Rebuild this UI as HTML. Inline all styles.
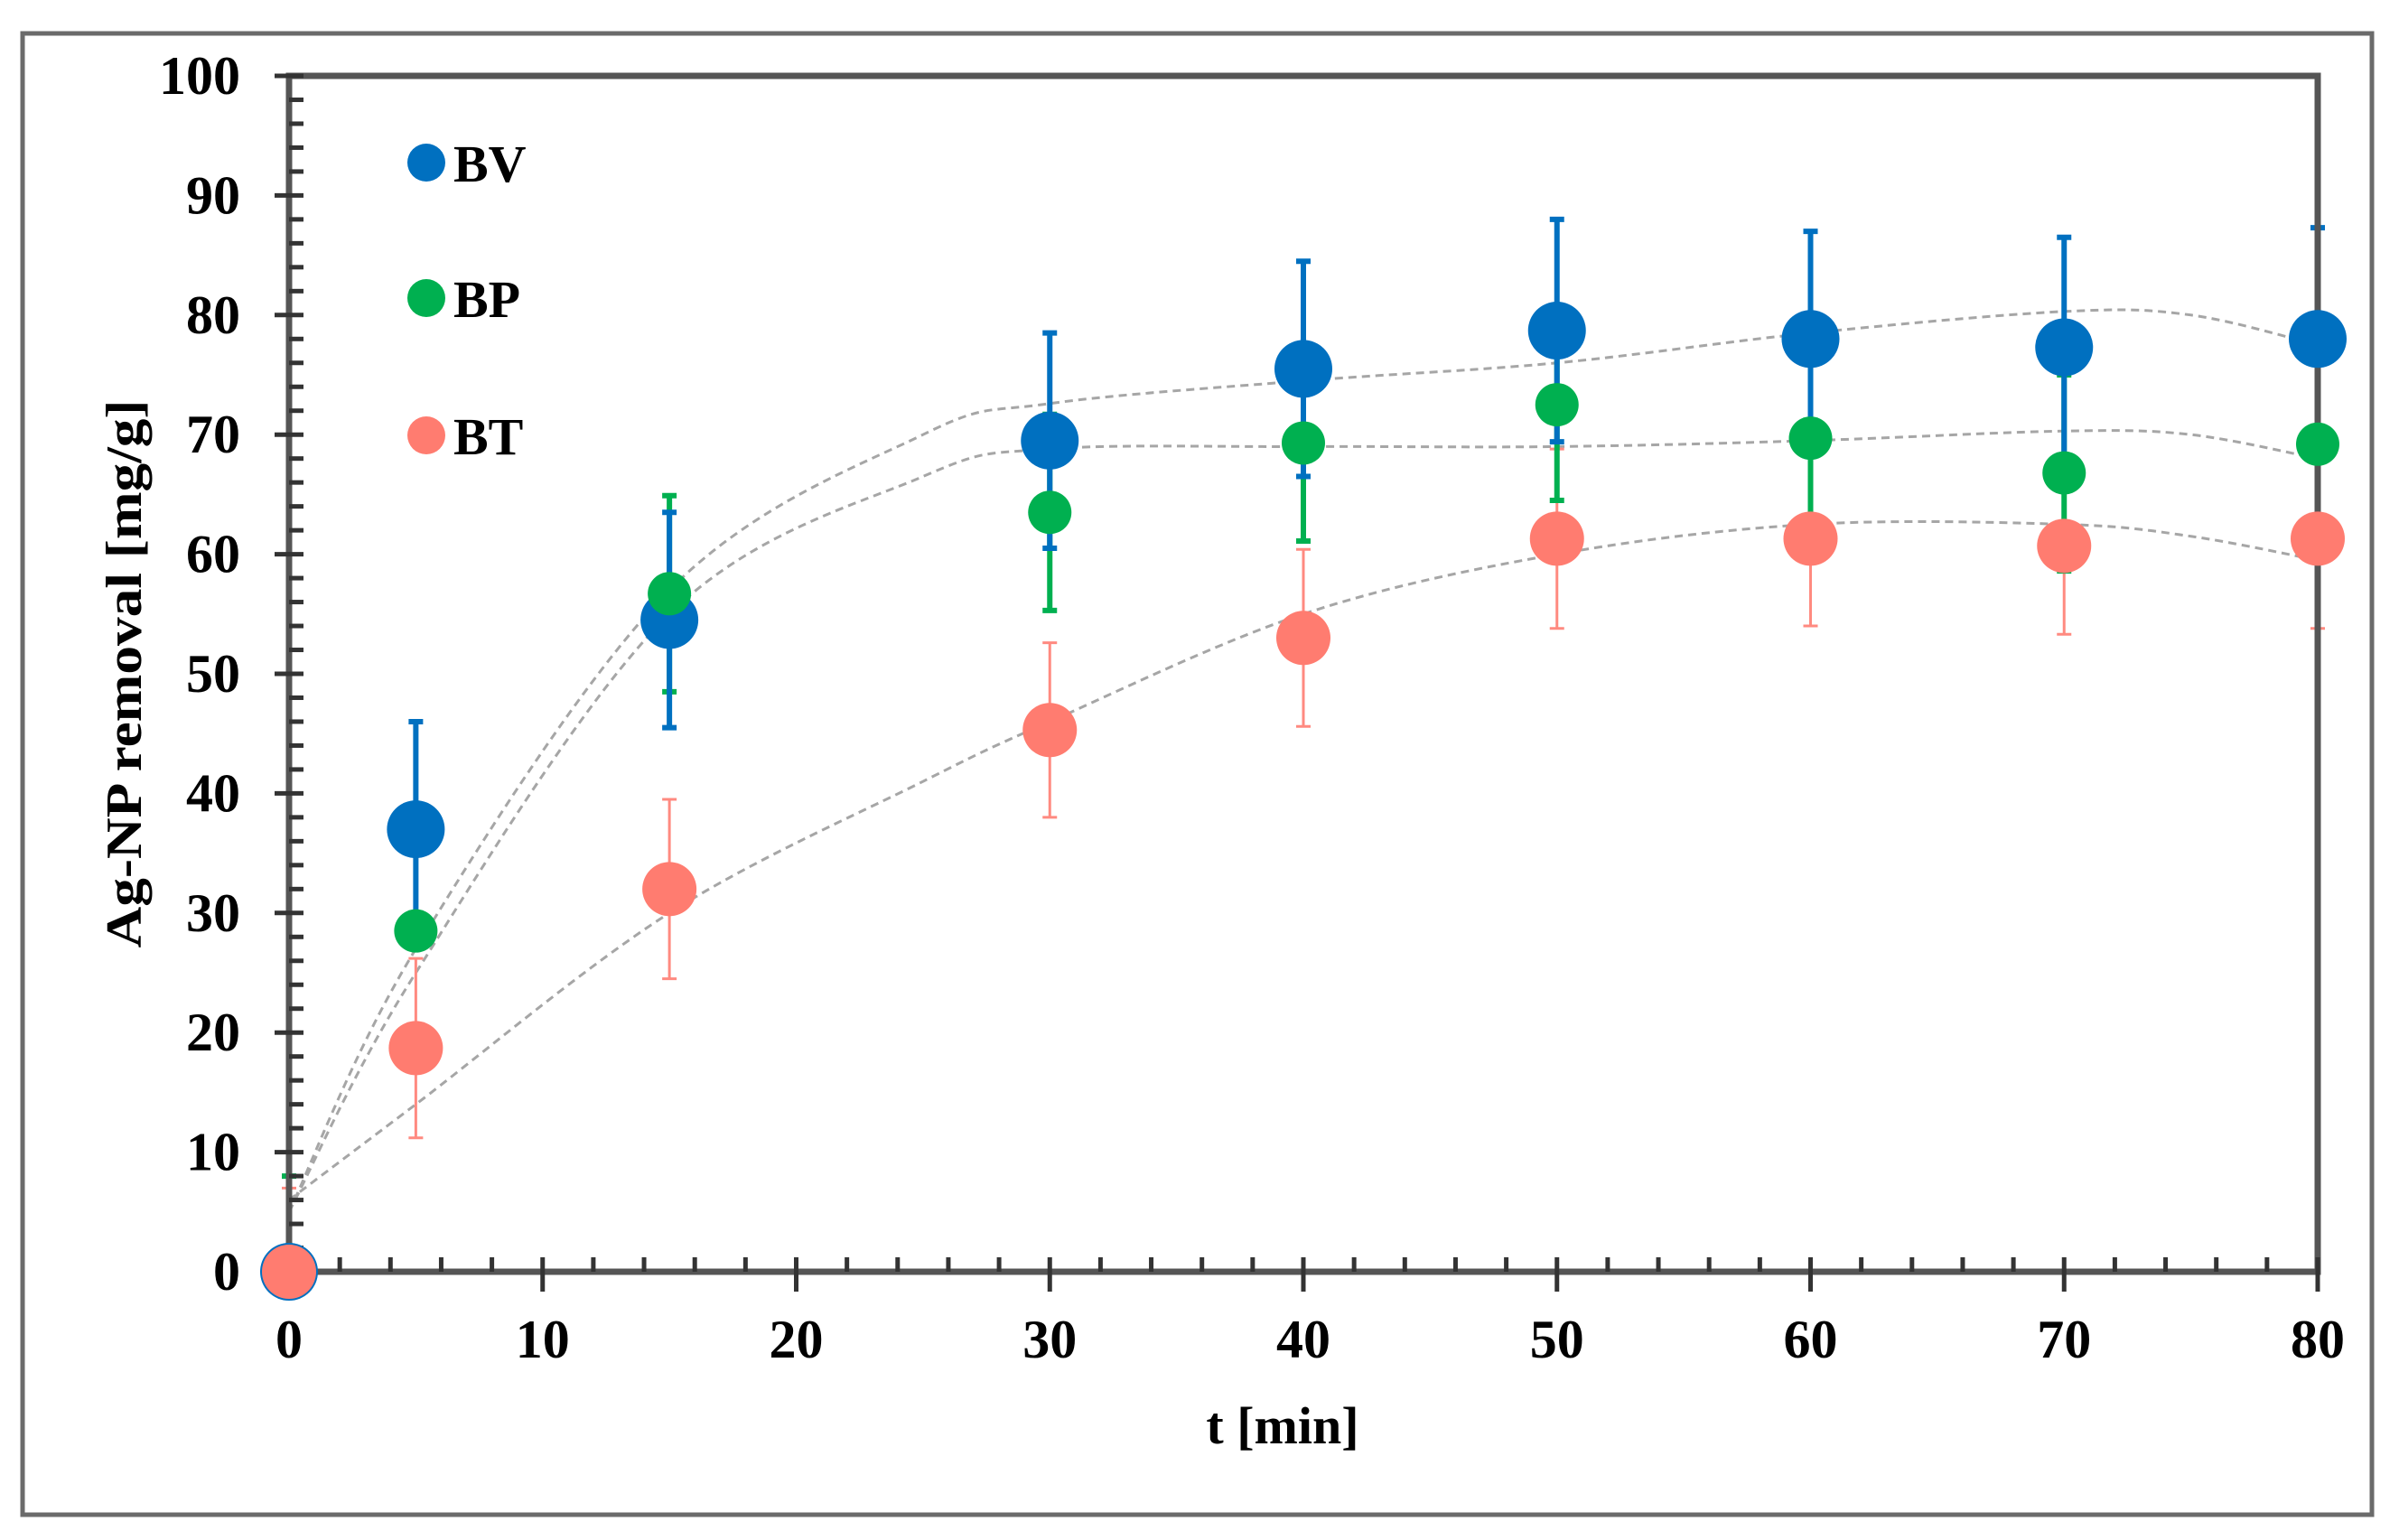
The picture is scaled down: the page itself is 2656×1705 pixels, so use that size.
<!DOCTYPE html>
<html><head><meta charset="utf-8"><style>
html,body{margin:0;padding:0;background:#fff;}
svg{display:block;}
text{font-family:"Liberation Serif",serif;font-weight:bold;fill:#000;}
</style></head>
<body>
<svg id="chart" width="2656" height="1705" viewBox="0 0 2656 1705" xmlns="http://www.w3.org/2000/svg">
<rect x="25" y="37" width="2601" height="1640" fill="#fff" stroke="#6b6b6b" stroke-width="5"/>
<g id="grid"></g>
<g id="trends"></g>
<g id="errs"></g>
<g id="marks"></g>
<g id="axes"></g>
<g id="legend">
  <circle cx="472" cy="180" r="21" fill="#0070c0"/>
  <text x="502" y="201" font-size="58">BV</text>
  <circle cx="472" cy="330" r="21" fill="#00b050"/>
  <text x="502" y="351" font-size="58">BP</text>
  <circle cx="472" cy="482" r="21" fill="#ff7c70"/>
  <text x="502" y="503" font-size="58">BT</text>
</g>
<text x="1420" y="1598" font-size="58" text-anchor="middle">t [min]</text>
<text transform="translate(156,746) rotate(-90)" font-size="56" text-anchor="middle" textLength="607" lengthAdjust="spacingAndGlyphs">Ag-NP removal  [mg/g]</text>
</svg>
<script>
const times=[0,5,15,30,40,50,60,70,80];
const bvValues=[0,37,54.5,69.5,75.5,78.7,78,77.3,78];
const bvErr=[0,9,9,9,9,9.3,9,9.2,9.3];
const bpValues=[0,28.5,56.7,63.5,69.3,72.5,69.7,66.8,69.2];
const bpErr=[8,0,8.2,8.2,8.2,8,8,8.2,8];
const btValues=[0,18.7,32,45.3,53,61.3,61.3,60.7,61.3];
const btErr=[7,7.5,7.5,7.3,7.4,7.5,7.3,7.4,7.5];
const trendX=[0,5,15,25,30,40,50,60,70,75,80];
const bvTrend=[5,27,57,70,72.6,74.5,76,78.5,80.3,80,77.5];
const bpTrend=[5,25,55,66.5,68.8,69,69,69.5,70.3,70,68];
const btTrend=[6,14,30,41,46,55,60,62.5,62.5,61.5,59.5];
const xTicks=[0,10,20,30,40,50,60,70,80];
const yTicks=[0,10,20,30,40,50,60,70,80,90,100];

const NS="http://www.w3.org/2000/svg";
const X0=320,X1=2566,Y0=1408,Y1=84;
const sx=v=>X0+(X1-X0)*v/80;
const sy=v=>Y0-(Y0-Y1)*v/100;
function mk(tag,attrs,parent){const e=document.createElementNS(NS,tag);for(const k in attrs)e.setAttribute(k,attrs[k]);document.getElementById(parent).appendChild(e);return e;}

let a=mk('path',{d:`M${X0},${Y0}H${X1}V${Y1}H${X0}Z`,fill:'none',stroke:'#555',"stroke-width":7},'axes');


for(let v=0;v<=100;v+=2){
  const y=sy(v);const major=v%10===0;
  const t=mk('line',{x1:major?X0-16:X0,x2:X0+16,y1:y,y2:y,stroke:'#333',"stroke-width":5},'axes');
  
  
}
for(let v=0;v<=80;v+=2){
  const x=sx(v);const major=v%10===0;
  const t=mk('line',{x1:x,x2:x,y1:Y0-16,y2:major?Y0+22:Y0,stroke:'#333',"stroke-width":5},'axes');
  
  
}
yTicks.forEach(v=>{const t=mk('text',{x:266,y:sy(v)+20,"font-size":60,"text-anchor":"end"},'axes');t.textContent=v;
  
  });
xTicks.forEach(v=>{const t=mk('text',{x:sx(v),y:1503,"font-size":60,"text-anchor":"middle"},'axes');t.textContent=v;
  
  });

function smooth(xs,ys){const p=xs.map((x,i)=>[sx(x),sy(ys[i])]);let d=`M${p[0][0]},${p[0][1]}`;
  for(let i=0;i<p.length-1;i++){const p0=p[i-1]||p[i],p1=p[i],p2=p[i+1],p3=p[i+2]||p2;
    d+=`C${p1[0]+(p2[0]-p0[0])/6},${p1[1]+(p2[1]-p0[1])/6} ${p2[0]-(p3[0]-p1[0])/6},${p2[1]-(p3[1]-p1[1])/6} ${p2[0]},${p2[1]}`;}
  return d;}
[['bv',bvTrend],['bp',bpTrend],['bt',btTrend]].forEach(([n,ys])=>{
  const l=mk('path',{d:smooth(trendX,ys),fill:'none',stroke:'#a6a6a6',"stroke-width":3,"stroke-dasharray":"9 6"},'trends');
  
  
});

const series=[['bt',btValues,btErr,'#ff8a80',30,'#ff7c70'],['bp',bpValues,bpErr,'#00b050',24,'#00b050'],['bv',bvValues,bvErr,'#0070c0',32,'#0070c0']];
series.forEach(([n,vals,errs,ec,r,fc])=>{
  vals.forEach((v,i)=>{
    const x=sx(times[i]),yt=sy(v+errs[i]),yb=sy(Math.max(0,v-errs[i]));
    if(errs[i]>0){
      const e=mk('path',{d:`M${x},${yt}V${yb}M${x-8},${yt}H${x+8}M${x-8},${yb}H${x+8}`,stroke:ec,"stroke-width":n==='bt'?3:6,fill:'none'},'errs');
      
      
    }
  });
});
series.slice().reverse().forEach(([n,vals,errs,ec,r,fc])=>{
  vals.forEach((v,i)=>{
    const c=mk('circle',{cx:sx(times[i]),cy:sy(v),r:r,fill:fc},'marks');
    
    
  });
});
// draw axes on top of zero markers? reference shows marker over axis at origin
document.getElementById('chart').appendChild(document.getElementById('marks'));
</script>
</body></html>
